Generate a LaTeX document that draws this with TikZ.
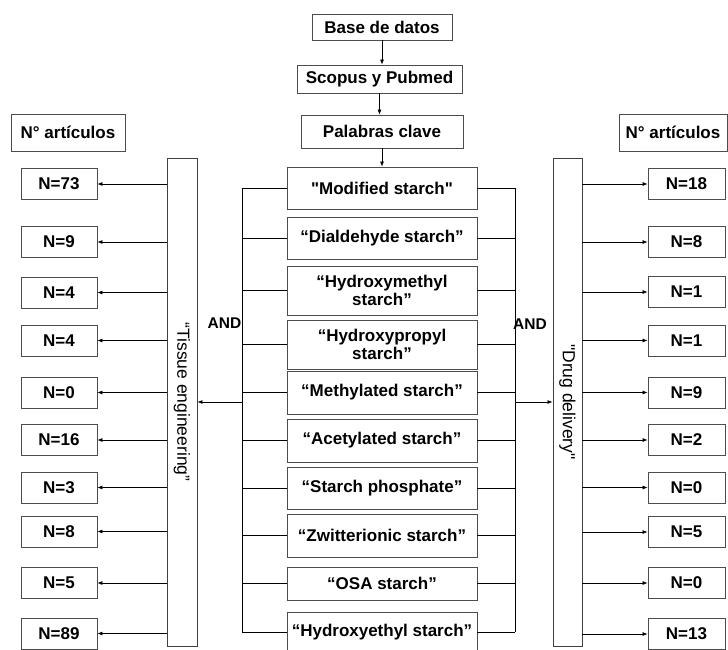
\documentclass[tikz,border=0pt]{standalone}
\usepackage{fontspec}
\setmainfont{Liberation Sans}
\usetikzlibrary{arrows.meta}
\newcommand{\sq}{\XeTeXglyph\XeTeXcharglyph"22\relax}
\begin{document}
\begin{tikzpicture}[x=1pt,y=-1pt,
  box/.style={draw=black!70, line width=0.8pt, fill=white, inner sep=0pt,
    font=\fontsize{17}{18.5}\selectfont\bfseries, align=center},
  nbox/.style={box, minimum width=76pt, minimum height=31pt},
  mbox/.style={box, minimum width=190pt},
  tall/.style={draw=black!75, line width=0.9pt, inner sep=0pt, minimum height=488pt},
  vtext/.style={rotate=-90, inner sep=0pt, font=\fontsize{17.5}{19}\selectfont},
  conn/.style={line width=0.7pt, black},
  arr/.style={conn, -{Latex[length=5pt,width=4pt]}},
  lbl/.style={font=\fontsize{15.5}{18}\selectfont\bfseries, inner sep=0pt}]
\useasboundingbox (0,0) rectangle (728,650);

% top chain
\node[box, minimum width=140pt, minimum height=26pt] (base) at (382,27) {Base de datos};
\node[box, minimum width=165pt, minimum height=28pt] (scopus) at (379.5,79) {Scopus y Pubmed};
\node[box, minimum width=162pt, minimum height=33pt] (palabras) at (382,131.5) {Palabras clave};

% headers
\node[box, minimum width=114pt, minimum height=37pt] (hl) at (68,132.5) {N° artículos};
\node[box, minimum width=108pt, minimum height=37pt] (hr) at (673,132.5) {N° artículos};

% central keyword boxes
\node[mbox, minimum height=42pt] (m1) at (382,188) {\sq Modified starch\sq};
\node[mbox, minimum height=42pt] (m2) at (382,238) {“Dialdehyde starch”};
\node[mbox, minimum height=49pt] (m3) at (382,290.5) {“Hydroxymethyl\\starch”};
\node[mbox, minimum height=49pt] (m4) at (382,344.5) {“Hydroxypropyl\\starch”};
\node[mbox, minimum height=43pt] (m5) at (382,392.5) {“Methylated starch”};
\node[mbox, minimum height=43pt] (m6) at (382,440.5) {“Acetylated starch”};
\node[mbox, minimum height=42pt] (m7) at (382,488) {“Starch phosphate”};
\node[mbox, minimum height=43pt] (m8) at (382,535.5) {“Zwitterionic starch”};
\node[mbox, minimum height=33pt] (m9) at (382,583.5) {“OSA starch”};
\node[mbox, minimum height=40pt] (m10) at (382,632) {“Hydroxyethyl starch”};

% tall boxes
\node[tall, minimum width=30pt] (tissue) at (182,402) {};
\node[vtext] (tissuetxt) at (tissue.center) {“Tissue engineering”};
\node[tall, minimum width=29pt] (drug) at (567.5,402) {};
\node[vtext] (drugtxt) at (drug.center) {\sq Drug delivery\sq};

% AND labels
\node[lbl] (andl) at (224.5,323) {AND};
\node[lbl] (andr) at (530,324) {AND};

% left results
\foreach \i/\y/\t in {1/184/73,2/242/9,3/292.5/4,4/340.5/4,5/392.5/0,6/440/16,7/487.5/3,8/531.5/8,9/583/5,10/633.5/89}
  \node[nbox] (nL\i) at (59,\y) {N=\t};
% right results
\foreach \i/\y/\t in {1/184/18,2/242/8,3/292/1,4/340.5/1,5/392.5/9,6/440/2,7/487.5/0,8/532/5,9/583/0,10/634/13}
  \node[nbox, minimum width=77pt] (nR\i) at (686.5,\y) {N=\t};

% bracket coordinates
\coordinate (lbr) at (242,402);
\coordinate (rbr) at (515,402);

% top arrows
\draw[arr] (base.south) -- (base.south |- scopus.north);
\draw[arr] (scopus.south) -- (scopus.south |- palabras.north);
\draw[arr] (palabras.south) -- (m1.north);

% brackets
\draw[conn] (m1.west -| lbr) -- (m10.west -| lbr);
\draw[conn] (m1.east -| rbr) -- (m10.east -| rbr);
\foreach \i in {1,...,10} {
  \draw[conn] (m\i.west) -- (m\i.west -| lbr);
  \draw[conn] (m\i.east) -- (m\i.east -| rbr);
}
\draw[arr] (lbr) -- (tissue.east |- lbr);
\draw[arr] (rbr) -- (drug.west |- rbr);

% result arrows
\foreach \i in {1,...,10} {
  \draw[arr] (tissue.west |- nL\i.east) -- (nL\i.east);
  \draw[arr] (drug.east |- nR\i.west) -- (nR\i.west);
}
\end{tikzpicture}
\end{document}
